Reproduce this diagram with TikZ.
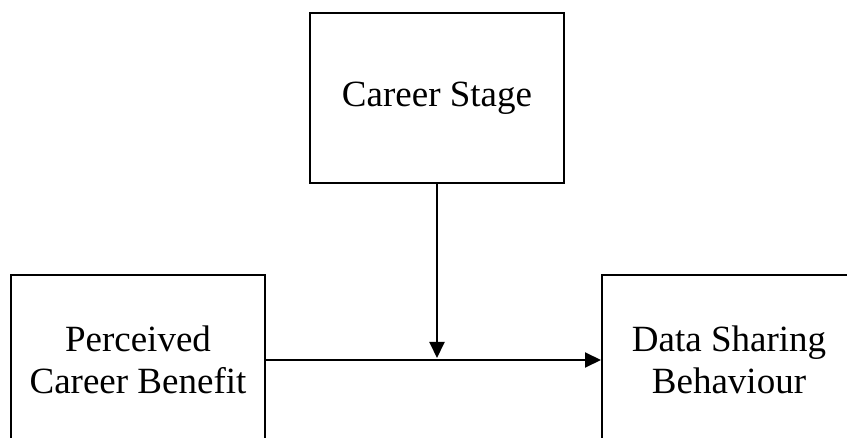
\documentclass[tikz,border=0pt]{standalone}
\usepackage{fontspec}
\setmainfont{Liberation Serif}
\usepackage{tikz}
\usetikzlibrary{arrows.meta,positioning}
\tikzset{
  ar/.style={-{Triangle[length=16pt,width=15pt]},line width=2pt,black},
  box/.style={draw=black,line width=2pt,minimum width=254pt,minimum height=170pt,align=center,inner sep=0pt,font=\fontsize{37}{42}\selectfont}
}
\begin{document}
\begin{tikzpicture}[x=1pt,y=-1pt]
\useasboundingbox (0,0) rectangle (847,438);
\clip (0,0) rectangle (847,438);
\node[box] (stage) at (437,98) {Career Stage};
\node[box] (benefit) at (138,360) {Perceived\\Career Benefit};
\node[box] (behav) at (729,360) {Data Sharing\\Behaviour};
\coordinate (meet) at (stage.south |- benefit.east);
\draw[ar] (benefit.east) -- (behav.west);
\draw[ar,shorten >=2pt] (stage.south) -- (meet);
\end{tikzpicture}
\end{document}
